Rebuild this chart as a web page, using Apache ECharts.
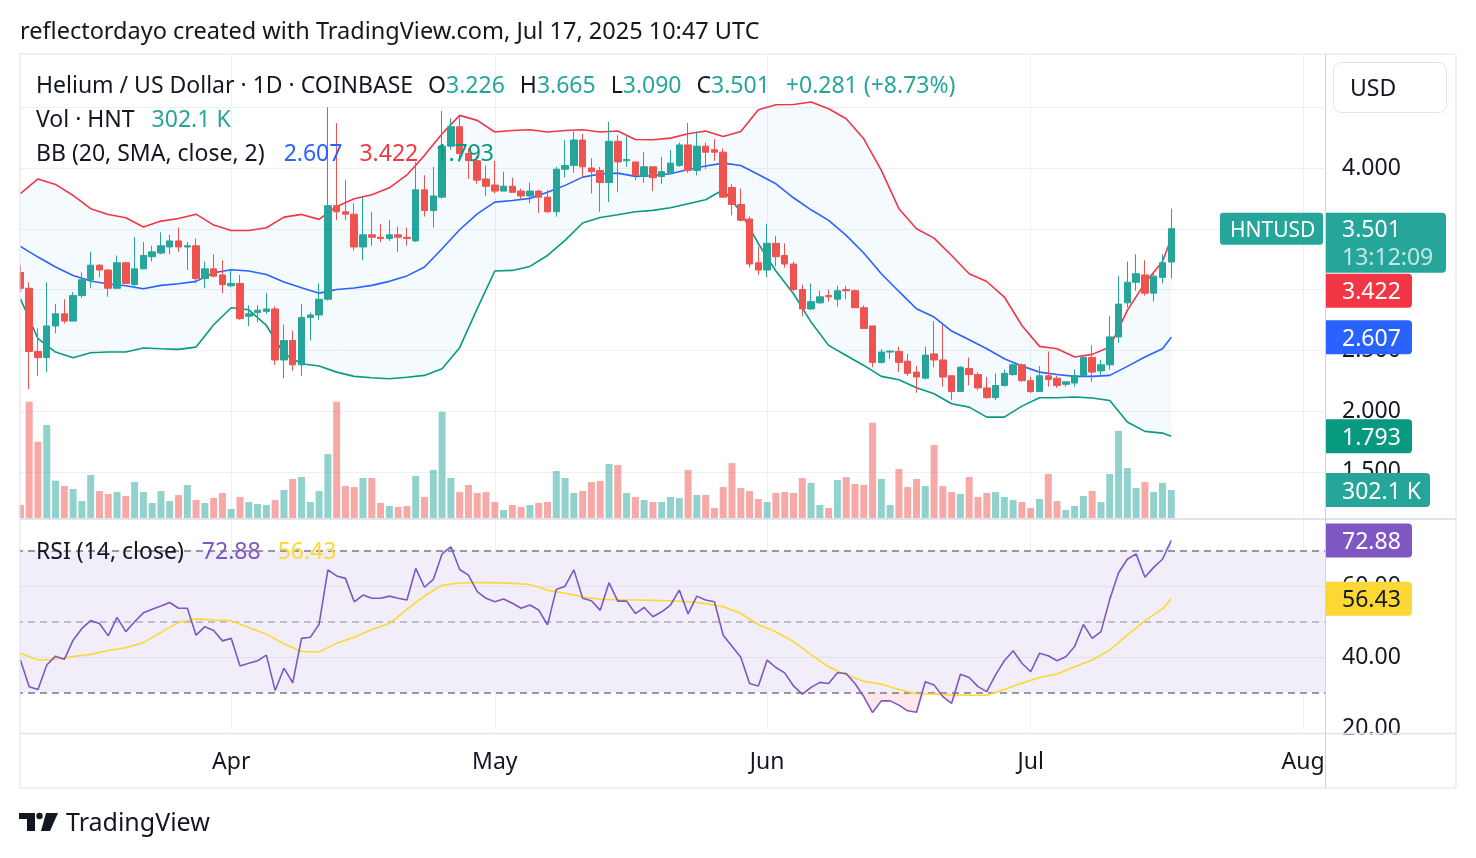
<!DOCTYPE html>
<html><head><meta charset="utf-8">
<script src="https://cdn.jsdelivr.net/npm/echarts@6/dist/echarts.min.js"></script>
<style>html,body{margin:0;padding:0;background:#fff}#c{width:1476px;height:858px}</style>
</head><body><div id="c"></div>
<script>
// ---------------- DATA ----------------
const opens = [3.14,3.01,2.49,2.44,2.70,2.80,2.74,2.95,3.08,3.20,
3.16,3.01,3.22,3.04,3.17,3.27,3.30,3.35,3.40,3.35,
3.36,3.09,3.17,3.12,3.03,3.05,2.78,2.81,2.82,2.84,
2.42,2.58,2.38,2.77,2.79,2.92,3.69,3.64,3.62,3.35,
3.45,3.43,3.42,3.45,3.43,3.40,3.82,3.65,3.76,4.18,
4.34,4.12,4.06,3.91,3.86,3.81,3.85,3.81,3.77,3.81,
3.76,3.64,3.99,4.02,4.23,4.00,3.98,3.88,4.22,4.06,
4.05,3.93,4.01,3.93,3.96,4.02,4.19,3.98,4.18,4.15,
4.13,3.84,3.70,3.58,3.22,3.16,3.38,3.28,3.21,3.00,
2.84,2.89,2.95,2.92,3.00,2.99,2.85,2.70,2.40,2.485,
2.49,2.41,2.32,2.27,2.47,2.42,2.29,2.16,2.35,2.30,
2.19,2.11,2.21,2.30,2.38,2.25,2.16,2.29,2.27,2.22,
2.23,2.29,2.44,2.33,2.38,2.61,2.89,3.06,3.12,2.97,
3.10,3.226];
const closes = [3.01,2.49,2.44,2.70,2.80,2.74,2.95,3.08,3.20,3.16,
3.01,3.22,3.05,3.17,3.28,3.31,3.36,3.40,3.35,3.36,
3.09,3.17,3.11,3.04,3.05,2.76,2.80,2.83,2.84,2.42,
2.58,2.38,2.77,2.79,2.92,3.69,3.64,3.62,3.35,3.45,
3.43,3.42,3.45,3.43,3.42,3.82,3.65,3.77,4.18,4.34,
4.12,4.06,3.90,3.85,3.81,3.85,3.80,3.77,3.81,3.76,
3.64,3.99,4.02,4.23,4.01,3.97,3.88,4.22,4.05,4.07,
3.94,4.01,3.92,3.97,4.04,4.19,3.98,4.18,4.13,4.13,
3.76,3.70,3.57,3.21,3.16,3.38,3.27,3.21,3.00,2.84,
2.90,2.94,2.94,2.99,2.99,2.85,2.68,2.40,2.485,2.493,
2.40,2.31,2.28,2.46,2.42,2.28,2.16,2.36,2.30,2.19,
2.11,2.21,2.31,2.38,2.25,2.16,2.29,2.26,2.21,2.24,
2.29,2.44,2.32,2.38,2.61,2.88,3.06,3.13,2.97,3.11,
3.22,3.501];
const lows = [2.98,2.18,2.29,2.32,2.64,2.72,2.74,2.93,3.01,3.10,
2.94,3.01,3.05,3.01,3.17,3.23,3.29,3.29,3.31,3.16,
3.05,3.01,3.10,2.97,3.02,2.75,2.70,2.73,2.80,2.38,
2.27,2.33,2.29,2.58,2.75,2.91,3.57,3.57,3.32,3.24,
3.36,3.39,3.40,3.31,3.36,3.39,3.60,3.51,3.75,4.15,
4.05,3.91,3.87,3.77,3.79,3.81,3.80,3.74,3.71,3.63,
3.63,3.60,3.92,3.96,3.92,3.79,3.64,3.72,3.80,4.01,
3.90,3.88,3.81,3.87,3.95,4.01,3.96,3.94,3.99,4.06,
3.76,3.61,3.56,3.18,3.12,3.10,3.19,3.18,2.99,2.78,
2.83,2.88,2.90,2.86,2.92,2.85,2.68,2.36,2.39,2.43,
2.32,2.29,2.15,2.26,2.36,2.20,2.09,2.16,2.21,2.17,
2.10,2.09,2.20,2.29,2.24,2.15,2.16,2.20,2.19,2.20,
2.20,2.28,2.24,2.29,2.34,2.56,2.85,2.99,2.95,2.90,
3.05,3.090];
const highs = [3.20,3.06,2.68,3.06,2.88,2.92,2.98,3.14,3.31,3.21,
3.17,3.28,3.23,3.43,3.39,3.36,3.47,3.45,3.51,3.39,
3.42,3.23,3.29,3.24,3.16,3.12,2.87,2.87,2.97,2.86,
2.71,2.66,2.88,2.81,3.05,4.50,4.37,3.90,3.71,3.76,
3.64,3.54,3.57,3.52,3.51,4.05,3.94,4.01,4.47,4.41,
4.43,4.16,4.10,4.02,4.06,3.97,3.92,3.83,3.88,3.82,
3.82,4.01,4.23,4.30,4.28,4.08,4.01,4.38,4.27,4.26,
4.05,4.13,4.01,4.09,4.15,4.21,4.37,4.30,4.21,4.24,
4.16,3.87,3.83,3.60,3.35,3.54,3.44,3.38,3.23,3.04,
3.05,2.99,3.00,3.03,3.03,3.00,2.87,2.70,2.51,2.50,
2.53,2.47,2.37,2.53,2.74,2.71,2.29,2.37,2.44,2.32,
2.28,2.31,2.34,2.39,2.39,2.28,2.37,2.49,2.29,2.24,
2.34,2.45,2.54,2.42,2.78,3.11,3.23,3.29,3.24,3.14,
3.29,3.665];
// volume in thousands of HNT
const volumes = [140,1255,823,1003,403,345,313,183,464,291,259,280,237,388,280,162,291,183,248,356,194,162,216,
270,97,227,173,151,140,194,302,421,442,173,291,690,1255,345,334,432,432,162,129,119,129,
453,227,518,1147,432,280,356,270,280,173,86,140,119,140,162,173,507,432,270,291,388,399,
583,572,270,227,194,173,173,227,216,518,248,248,108,334,593,324,291,205,173,270,280,
270,432,378,140,108,410,442,367,356,1028,421,140,529,334,421,345,788,345,280,259,442,227,
270,280,227,194,173,108,205,475,183,86,129,237,291,173,475,939,539,324,388,280,378,302.1];
const rsi = [39.2,31.7,30.9,37.8,40.3,39.4,44.8,48.1,50.3,49.5,
46.0,51.2,47.2,50.0,52.5,53.5,54.4,55.4,53.8,53.8,
46.2,48.6,47.5,44.6,45.3,37.5,38.3,39.0,40.6,30.6,
36.9,32.8,45.3,45.6,49.3,64.6,62.9,62.2,55.6,57.5,
56.6,56.6,57.2,56.6,56.1,65.0,59.7,61.9,69.1,71.1,
64.7,63.1,58.5,56.6,55.6,56.4,55.2,53.8,54.7,53.3,
49.1,59.1,60.0,64.6,56.6,55.9,53.2,61.0,55.8,55.8,
52.3,54.0,51.4,52.8,54.7,58.9,52.2,57.2,56.1,55.6,
46.2,43.1,40.0,32.6,31.9,39.2,37.1,35.6,31.9,29.6,
31.5,32.9,32.6,35.6,35.4,32.6,28.9,24.4,27.7,27.7,
26.5,24.9,24.5,33.1,32.2,28.9,27.0,35.2,34.3,31.7,
30.3,35.0,39.0,41.8,38.3,35.9,41.1,40.4,39.0,40.1,
43.0,49.2,45.3,47.2,56.3,63.8,67.6,69.1,62.5,65.3,
67.6,72.88];
// indicator lines read every second day (and on the last day)
const rsiMa = [41.1,39.2,39.4,40.2,40.8,41.9,42.7,44.1,47.0,49.8,50.8,50.5,
50.3,48.4,46.5,43.8,41.6,41.5,43.9,45.6,47.8,49.5,53.5,
57.3,60.3,60.9,61.0,61.0,60.8,60.5,58.9,58.0,57.0,56.3,
56.2,56.1,56.0,55.9,55.6,55.1,54.3,52.3,49.2,47.1,
44.4,40.7,37.3,35.0,33.2,32.4,30.9,29.7,29.6,29.4,29.3,
29.3,30.9,32.7,34.3,35.3,37.3,39.2,42.0,46.2,50.3,53.6,
56.43];
const bbUpper = [3.79,3.91,3.865,3.774,3.665,3.618,3.59,3.514,3.563,3.585,3.62,3.53,
3.486,3.486,3.508,3.596,3.618,3.577,3.684,3.747,3.78,3.837,3.943,
4.104,4.282,4.433,4.392,4.296,4.309,4.315,4.296,4.309,4.315,4.296,
4.304,4.235,4.233,4.246,4.282,4.304,4.26,4.30,4.48,4.52,
4.523,4.543,4.488,4.405,4.24,3.98,3.665,3.50,3.423,3.28,3.13,
3.066,2.938,2.704,2.532,2.512,2.444,2.466,2.526,2.828,3.053,3.23,
3.422];
const bbMiddle = [3.355,3.267,3.185,3.116,3.07,3.045,3.031,3.006,3.034,3.047,3.067,3.138,
3.163,3.152,3.124,3.061,3.014,2.97,3.0,3.012,3.034,3.067,3.112,
3.185,3.335,3.492,3.623,3.719,3.733,3.75,3.80,3.857,3.925,3.95,
3.958,3.931,3.936,3.953,3.988,4.016,4.04,4.021,3.947,3.87,
3.755,3.656,3.569,3.445,3.30,3.13,2.984,2.842,2.773,2.658,2.586,
2.512,2.43,2.37,2.32,2.30,2.285,2.285,2.293,2.367,2.444,2.512,
2.607];
const bbLower = [2.924,2.595,2.485,2.438,2.479,2.485,2.485,2.518,2.512,2.507,2.526,2.71,
2.85,2.833,2.704,2.471,2.389,2.37,2.32,2.285,2.274,2.265,2.278,
2.293,2.348,2.521,2.842,3.152,3.157,3.19,3.28,3.404,3.547,3.593,
3.615,3.64,3.651,3.673,3.706,3.739,3.821,3.637,3.377,3.152,
2.965,2.732,2.54,2.457,2.375,2.285,2.257,2.191,2.142,2.06,2.032,
1.95,1.95,2.04,2.109,2.109,2.115,2.107,2.087,1.909,1.832,1.818,
1.793];
const monthNames = {'03':'Mar','04':'Apr','05':'May','06':'Jun','07':'Jul','08':'Aug'};

// ---------------- categories (daily, Mar 8 → Aug 3 2025) ----------------
const dates = [];
(function(){ const t0 = Date.UTC(2025,2,8); for (let i=0;i<149;i++) dates.push(new Date(t0+i*86400000).toISOString().slice(0,10)); })();
const isMonthStart = v => v.slice(8) === '01';
const monthStarts = dates.filter(isMonthStart);
const sampleDays = []; for (let d=0; d<closes.length-1; d+=2) sampleDays.push(d); sampleDays.push(closes.length-1);

// ---------------- styling ----------------
const FONT = '"Noto Sans", "Open Sans", sans-serif';
const TXT = '#131722';
const UP = '#26a69a', DOWN = '#ef5350';
const GRID = '#eef0f4';
const FS = 23;

const chart = echarts.init(document.getElementById('c'), null, {renderer:'canvas'});

const xBase = (gi, showLabels) => ({
  type:'category', gridIndex: gi, data: dates, boundaryGap: true,
  axisLine:{show:false}, axisTick:{show:false}, splitLine:{show:false},
  axisLabel: showLabels ? {show:true, interval:(i,v)=>isMonthStart(v), formatter:v=>monthNames[v.slice(5,7)],
      color:TXT, fontSize:FS, fontFamily:FONT, margin:23} : {show:false}
});
const vgridMark = {
  silent:true, symbol:['none','none'], z:0, animation:false,
  label:{show:false}, lineStyle:{color:GRID, type:'solid', width:1},
  data: monthStarts.map(d=>({xAxis:d}))
};

const option = {
  animation:false,
  backgroundColor:'#ffffff',
  textStyle:{fontFamily:FONT},
  grid:[
    {left:16, right:151, top:46.5, height:486},
    {left:16, right:151, top:398, height:120},
    {left:16, right:151, top:515.2, height:213}
  ],
  xAxis:[xBase(0,false), xBase(1,false), xBase(2,true)],
  yAxis:[
    {type:'value', gridIndex:0, position:'right', min:1, max:5, interval:0.5,
     axisLine:{show:false}, axisTick:{show:false},
     splitLine:{show:true, showMinLine:false, showMaxLine:false, lineStyle:{color:GRID, width:1}},
     axisLabel:{color:TXT, fontSize:FS, fontFamily:FONT, margin:17, padding:[4,0,0,0], showMinLabel:false, showMaxLabel:false,
       formatter:v=> v > 4.25 ? '' : v.toFixed(3)}},
    {type:'value', gridIndex:1, min:0, max:1295, show:false, splitLine:{show:false}},
    {type:'value', gridIndex:2, position:'right', min:20, max:80, interval:20,
     axisLine:{show:false}, axisTick:{show:false},
     splitLine:{show:true, showMinLine:false, showMaxLine:false, lineStyle:{color:GRID, width:1}},
     axisLabel:{color:TXT, fontSize:FS, fontFamily:FONT, margin:17, padding:[4,0,0,0], showMaxLabel:false, formatter:v=>v.toFixed(2)}}
  ],
  series:[
    {type:'line', xAxisIndex:0, yAxisIndex:0, data:closes, symbol:'none', z:0, silent:true,
     lineStyle:{opacity:0}, markLine:vgridMark},
    {type:'custom', xAxisIndex:0, yAxisIndex:0, z:1, silent:true, data:[0],
     renderItem:(p, api)=>{
       const up = sampleDays.map((d,i)=>api.coord([d, bbUpper[i]]));
       const lo = sampleDays.map((d,i)=>api.coord([d, bbLower[i]])).reverse();
       return {type:'polygon', shape:{points:up.concat(lo)}, style:{fill:'rgba(33,150,243,0.05)'}};
     }},
    {type:'bar', xAxisIndex:1, yAxisIndex:1, barWidth:7, z:1, silent:true,
     data: volumes.map((v,i)=>({value:v, itemStyle:{color: closes[i]>=opens[i] ? 'rgba(38,166,154,0.5)' : 'rgba(239,83,80,0.5)'}}))},
    {type:'line', xAxisIndex:0, yAxisIndex:0, z:2, symbol:'none', silent:true,
     lineStyle:{color:'#f23645', width:1.6}, data: sampleDays.map((d,i)=>[d, bbUpper[i]])},
    {type:'line', xAxisIndex:0, yAxisIndex:0, z:2, symbol:'none', silent:true,
     lineStyle:{color:'#2962ff', width:1.6}, data: sampleDays.map((d,i)=>[d, bbMiddle[i]])},
    {type:'line', xAxisIndex:0, yAxisIndex:0, z:2, symbol:'none', silent:true,
     lineStyle:{color:'#089981', width:1.6}, data: sampleDays.map((d,i)=>[d, bbLower[i]])},
    {type:'candlestick', xAxisIndex:0, yAxisIndex:0, z:3, barWidth:7, silent:true,
     itemStyle:{color:UP, color0:DOWN, borderColor:UP, borderColor0:DOWN, borderWidth:1},
     data: opens.map((o,i)=>[o, closes[i], lows[i], highs[i]])},
    {type:'line', xAxisIndex:2, yAxisIndex:2, data:rsi, symbol:'none', z:0, silent:true,
     lineStyle:{opacity:0},
     markArea:{silent:true, z:0, itemStyle:{color:'rgba(126,87,194,0.1)'}, data:[[{yAxis:30},{yAxis:70}]]},
     markLine:{silent:true, symbol:['none','none'], z:1, animation:false, label:{show:false},
       data:[
         ...monthStarts.map(d=>({xAxis:d, lineStyle:{color:GRID, type:'solid', width:1}})),
         {yAxis:70, lineStyle:{color:'#787b86', type:[7,5], width:1.5}},
         {yAxis:50, lineStyle:{color:'rgba(120,123,134,0.55)', type:[7,5], width:1.5}},
         {yAxis:30, lineStyle:{color:'#787b86', type:[7,5], width:1.5}}
       ]}},
    {type:'custom', xAxisIndex:2, yAxisIndex:2, z:1, silent:true, data:[0],
     renderItem:(p, api)=>{
       const idx = rsi.map((v,i)=>i);
       const low = idx.map(i=>api.coord([i, Math.min(rsi[i],30)]));
       const lowBase = idx.slice().reverse().map(i=>api.coord([i,30]));
       const high = idx.map(i=>api.coord([i, Math.max(rsi[i],70)]));
       const highBase = idx.slice().reverse().map(i=>api.coord([i,70]));
       return {type:'group', children:[
         {type:'polygon', shape:{points:low.concat(lowBase)}, style:{fill:'rgba(242,54,69,0.12)'}},
         {type:'polygon', shape:{points:high.concat(highBase)}, style:{fill:'rgba(8,153,129,0.15)'}}
       ]};
     }},
    {type:'line', xAxisIndex:2, yAxisIndex:2, z:3, symbol:'none', silent:true,
     lineStyle:{color:'#fdd835', width:1.6}, data: sampleDays.map((d,i)=>[d, rsiMa[i]])},
    {type:'line', xAxisIndex:2, yAxisIndex:2, z:4, symbol:'none', silent:true,
     lineStyle:{color:'#7e57c2', width:1.6}, data: rsi}
  ]
};
chart.setOption(option);

// ---------------- overlays: frame, legends, value tags ----------------
const last = closes.length - 1;
const pY = (gi, v) => chart.convertToPixel({xAxisIndex:gi, yAxisIndex:gi}, [0, v])[1];
const font = (s, w) => `${w||'normal'} ${s}px ${FONT}`;
const g = [];
const Z = 100;
const TY = 2; // text baseline nudge

g.push({type:'rect', shape:{x:0, y:0, width:1476, height:53.5}, style:{fill:'#fff'}, z:Z});
g.push({type:'rect', shape:{x:0, y:53, width:19.5, height:740}, style:{fill:'#fff'}, z:Z});
g.push({type:'rect', shape:{x:1326.5, y:734.5, width:129, height:53}, style:{fill:'#fff'}, z:Z});
g.push({type:'rect', shape:{x:20, y:54, width:1436, height:734}, style:{fill:null, stroke:'#e0e3eb', lineWidth:1}, z:Z+1});
g.push({type:'line', shape:{x1:20, y1:519, x2:1456, y2:519}, style:{stroke:'#e0e3eb', lineWidth:2}, z:Z+1});
g.push({type:'line', shape:{x1:20, y1:733.5, x2:1456, y2:733.5}, style:{stroke:'#e0e3eb', lineWidth:1.5}, z:Z+1});
g.push({type:'line', shape:{x1:1325.5, y1:54, x2:1325.5, y2:788}, style:{stroke:'#d1d4dc', lineWidth:1}, z:Z+1});

g.push({type:'text', x:20, y:32, style:{text:'reflectordayo created with TradingView.com, Jul 17, 2025 10:47 UTC', font:font(23.5), fill:TXT, verticalAlign:'middle'}, z:Z+2});

const rs = (c, pad) => ({fill:c, fontSize:FS, fontFamily:FONT, padding: pad ? [0,0,0,pad] : 0});
const chg = closes[last] - closes[last-1];
const pct = chg / closes[last-1] * 100;
g.push({type:'text', x:36, y:86, z:Z+2, style:{
  text:`{t|Helium / US Dollar · 1D · COINBASE}{l|O}{v|${opens[last].toFixed(3)}}{l|H}{v|${highs[last].toFixed(3)}}{l|L}{v|${lows[last].toFixed(3)}}{l|C}{v|${closes[last].toFixed(3)}}{p|${chg>=0?'+':''}${chg.toFixed(3)} (${pct>=0?'+':''}${pct.toFixed(2)}%)}`,
  font:font(FS), fill:TXT, verticalAlign:'middle',
  rich:{t:rs(TXT), l:rs(TXT,15), v:rs(UP), p:rs(UP,16)}}});
g.push({type:'text', x:36, y:120, z:Z+2, style:{
  text:`{t|Vol · HNT}{v|${volumes[last].toFixed(1)} K}`, font:font(FS), fill:TXT, verticalAlign:'middle',
  rich:{t:rs(TXT), v:rs(UP,17)}}});
g.push({type:'text', x:36, y:154, z:Z+2, style:{
  text:`{t|BB (20, SMA, close, 2)}{b|${bbMiddle[bbMiddle.length-1].toFixed(3)}}{r|${bbUpper[bbUpper.length-1].toFixed(3)}}{g|${bbLower[bbLower.length-1].toFixed(3)}}`,
  font:font(FS), fill:TXT, verticalAlign:'middle',
  rich:{t:rs(TXT), b:rs('#2962ff',19), r:rs('#f23645',17), g:rs('#089981',17)}}});
g.push({type:'text', x:36, y:552, z:Z+2, style:{
  text:`{t|RSI (14, close)}{p|${rsi[last].toFixed(2)}}{y|${rsiMa[rsiMa.length-1].toFixed(2)}}`,
  font:font(FS), fill:TXT, verticalAlign:'middle',
  rich:{t:rs(TXT), p:rs('#7e57c2',18), y:rs('#fdd835',17)}}});

g.push({type:'rect', shape:{x:1333.5, y:62.5, width:113, height:50, r:8}, style:{fill:'#fff', stroke:'#e0e3eb', lineWidth:1}, z:Z+2});
g.push({type:'text', x:1350, y:89, style:{text:'USD', font:font(FS), fill:TXT, verticalAlign:'middle'}, z:Z+3});

function placeTags(list){
  list.sort((a,b)=>a.y-b.y);
  let prevBottom = -1e9;
  list.forEach(t=>{
    const up = t.up || 17, h = t.h || 34;
    if (t.y - up < prevBottom + 1) t.y = prevBottom + 1 + up;
    prevBottom = t.y - up + h;
    g.push({type:'rect', shape:{x:1326, y:t.y-up, width:t.w||86, height:h, r:[0,4,4,0]}, style:{fill:t.color}, z:Z+4});
    g.push({type:'text', x:1342, y:t.y+TY, style:{text:t.text, font:font(FS), fill:t.tc||'#fff', verticalAlign:'middle'}, z:Z+5});
    if (t.sub) g.push({type:'text', x:1342, y:t.y+28+TY, style:{text:t.sub, font:font(FS), fill:'rgba(255,255,255,0.72)', verticalAlign:'middle'}, z:Z+5});
  });
}
const lastY = pY(0, closes[last]);
placeTags([
  {y:lastY, color:UP, text:closes[last].toFixed(3), sub:'13:12:09', up:16, h:60, w:120},
  {y:pY(0, bbUpper[bbUpper.length-1]), color:'#f23645', text:bbUpper[bbUpper.length-1].toFixed(3)},
  {y:pY(0, bbMiddle[bbMiddle.length-1]), color:'#2962ff', text:bbMiddle[bbMiddle.length-1].toFixed(3)},
  {y:pY(0, bbLower[bbLower.length-1]), color:'#089981', text:bbLower[bbLower.length-1].toFixed(3)},
  {y:pY(1, volumes[last]), color:UP, text:volumes[last].toFixed(1)+' K', w:104}
]);
placeTags([
  {y:pY(2, rsi[last]), color:'#7e57c2', text:rsi[last].toFixed(2)},
  {y:pY(2, rsiMa[rsiMa.length-1]), color:'#fdd835', text:rsiMa[rsiMa.length-1].toFixed(2), tc:TXT}
]);
g.push({type:'rect', shape:{x:1220, y:lastY-16, width:103, height:32, r:3}, style:{fill:UP}, z:Z+4});
g.push({type:'text', x:1230, y:lastY+TY, style:{text:'HNTUSD', font:font(21), fill:'#fff', verticalAlign:'middle'}, z:Z+5});

g.push({type:'polygon', shape:{points:[[19,813],[35,813],[35,831],[27,831],[27,819],[19,819]]}, style:{fill:TXT}, z:Z+2});
g.push({type:'circle', shape:{cx:39.5, cy:816, r:3.2}, style:{fill:TXT}, z:Z+2});
g.push({type:'polygon', shape:{points:[[46,813],[58,813],[50,831],[41,831]]}, style:{fill:TXT}, z:Z+2});
g.push({type:'text', x:66, y:824, style:{text:'TradingView', font:font(25), fill:TXT, verticalAlign:'middle'}, z:Z+2});

chart.setOption({graphic:{elements:g}});
</script>
</body></html>
